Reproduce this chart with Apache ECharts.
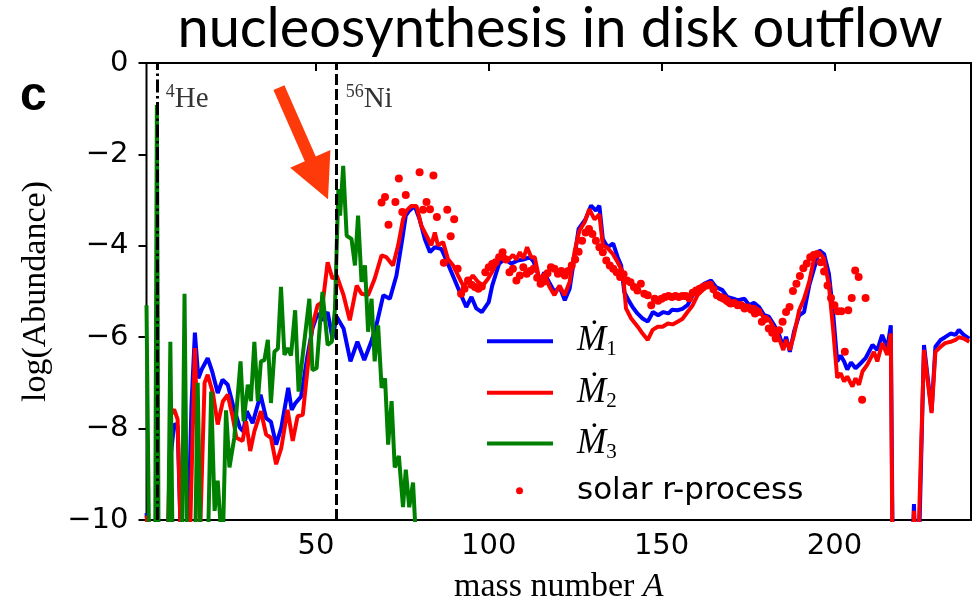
<!DOCTYPE html>
<html>
<head>
<meta charset="utf-8">
<script src="https://cdn.jsdelivr.net/npm/echarts@6/dist/echarts.min.js"></script>
<style>
  html, body { margin: 0; padding: 0; background: #fff; }
  #chart { width: 974px; height: 609px; }
</style>
</head>
<body>
<div id="chart"></div>
<script>
// Axis ticks
const xTicks = [50, 100, 150, 200];
const yTicks = [-10, -8, -6, -4, -2, 0];

// log10 abundance vs mass number A for the three outflow rates
const mdot1 = [
  [1,-9.85],[2,-10.6],[7,-11],[8,-8.6],[9,-7.9],[10,-7.95],[11,-10.6],[13,-10.5],[14,-7.5],[15,-5.9],
  [16,-6.9],[17,-6.7],[18.7,-6.46],[20,-6.75],[21.6,-7.22],[23,-6.93],[24.5,-7.04],[26,-7.48],[28,-7.98],
  [29,-8.06],[30,-7.62],[31.7,-7.88],[34,-7.26],[35.6,-7.77],[37,-7.85],[38.5,-8.35],[40,-7.98],[42,-7.11],
  [43,-7.59],[44,-7.45],[45.7,-7.3],[47.6,-6.39],[49,-5.81],[50.5,-5.48],[52,-5.63],[53.4,-5.45],[54.8,-6.03],
  [56,-5.55],[58,-5.81],[60,-6.53],[62,-6.1],[64,-6.5],[66,-6.1],[67.5,-5.74],[69.5,-5.08],[71.4,-5.16],
  [73.3,-4.65],[75,-3.85],[76,-3.34],[77,-3.23],[78.6,-3.13],[80,-3.42],[81.5,-3.85],[83,-4.14],[84.4,-4.03],
  [86.3,-4.07],[88,-4.36],[90,-4.72],[92,-5.08],[93.5,-5.34],[95,-5.12],[96.4,-5.37],[98,-5.45],[100,-5.23],
  [101,-4.87],[103,-4.39],[104.6,-4.29],[106.5,-4.39],[108.4,-4.32],[110,-4.3],[112,-4.25],[113,-4.35],
  [115,-4.79],[116,-4.58],[117.5,-4.8],[119,-5.01],[120.5,-4.9],[122,-5.19],[123.4,-4.94],[125,-4.14],
  [126,-3.63],[128,-3.42],[129.6,-3.12],[131,-3.23],[132,-3.12],[133,-3.85],[134.4,-4.03],[136,-3.95],
  [137.3,-4.25],[138.3,-4.43],[139.2,-5.01],[140.5,-5.2],[141.6,-5.34],[143,-5.48],[144.5,-5.59],[146,-5.66],
  [147.5,-5.45],[149,-5.52],[150.5,-5.45],[152,-5.48],[153,-5.4],[154.6,-5.41],[156,-5.38],[157.5,-5.3],
  [159,-5.08],[160.4,-4.94],[162.3,-4.83],[164.3,-4.76],[165.7,-4.9],[167.6,-4.97],[169,-5.12],[170.5,-5.15],
  [172,-5.19],[174,-5.16],[175.3,-5.3],[176.7,-5.25],[178.2,-5.34],[179.7,-5.52],[181,-5.55],[182.6,-5.74],
  [184,-5.95],[185.2,-6.21],[186,-5.99],[187.1,-6.32],[188.3,-5.88],[189.8,-5.52],[191.2,-5.45],[192.7,-4.87],
  [194.1,-4.5],[195.6,-4.1],[197,-4.18],[198.4,-4.61],[199.6,-5.45],[200.8,-6.53],[201.8,-6.4],[202.8,-6.53],
  [203.7,-6.71],[204.8,-6.55],[206.1,-6.68],[207.6,-6.57],[209,-6.46],[211,-6.17],[212.4,-6.28],[213.8,-5.95],
  [215.3,-6.24],[216.3,-5.74],[217,-12],[222,-12],[223,-9.65],[224,-12],[225.9,-6.17],[228.1,-7.62],
  [229.2,-6.21],[230.7,-6.06],[232,-6.0],[233.6,-5.92],[235,-5.95],[236,-5.84],[237.4,-5.95],[239,-6.03]
];

const mdot2 = [
  [1,-9.9],[2,-10.6],[7,-11],[8,-7.7],[9,-7.58],[10,-7.8],[11,-10.6],[13.5,-10.6],[15,-6.24],[16.5,-10.3],
  [17.8,-7.0],[18.7,-6.82],[20.2,-7.22],[21.6,-7.91],[23.1,-7.4],[24.5,-7.26],[26,-7.77],[27,-8.2],[28.8,-8.27],
  [29.8,-7.84],[31,-8.49],[32.2,-8.06],[34.1,-7.62],[35.6,-8.13],[37,-8.2],[38.5,-8.78],[40,-8.42],[41.8,-7.59],
  [43.3,-8.27],[44.7,-7.73],[46.2,-7.7],[47.6,-6.68],[49,-5.74],[50.5,-5.3],[52,-5.23],[53.4,-4.36],[54.8,-4.72],
  [56,-4.65],[58,-5.08],[59.8,-5.63],[61.8,-4.87],[63.2,-5.05],[65.1,-5.08],[67,-4.72],[69,-4.21],[70.4,-4.25],
  [72.3,-4.43],[73.8,-3.99],[75.2,-3.42],[76.2,-3.23],[77.6,-3.13],[79.1,-3.13],[80.5,-3.56],[82,-3.78],
  [83.4,-3.99],[84.4,-3.71],[85.3,-3.99],[86.8,-3.92],[88.2,-4.29],[89.7,-4.43],[91.1,-4.65],[92.6,-4.87],
  [94,-4.79],[95.4,-4.65],[96.9,-4.79],[98.3,-4.87],[99.8,-4.72],[101.2,-4.54],[102.7,-4.29],[104.1,-4.18],
  [105.5,-4.32],[107,-4.2],[108,-4.3],[109,-4.14],[110,-4.28],[111.1,-4.03],[112.3,-4.25],[113.3,-4.25],
  [114.7,-4.76],[116.1,-4.61],[117.6,-4.9],[119,-5.08],[120.5,-4.87],[121.9,-5.08],[123.4,-4.79],[124.8,-4.14],
  [126.2,-3.67],[127.7,-3.49],[129.1,-3.2],[130.6,-3.42],[132,-3.31],[133,-3.99],[134.4,-4.05],[135.9,-4.18],
  [137.3,-4.36],[138.8,-4.58],[139.7,-5.37],[141.2,-5.59],[143.1,-5.77],[144.5,-5.92],[146,-6.06],[147.4,-5.84],
  [148.9,-5.77],[150.3,-5.77],[151.8,-5.70],[153.2,-5.72],[154.6,-5.66],[156,-5.6],[157.5,-5.45],[159,-5.30],
  [160.4,-5.08],[162.3,-4.94],[163.8,-4.83],[165.2,-5.01],[166.7,-5.16],[168.2,-5.22],[169.6,-5.30],[171,-5.26],
  [172.5,-5.26],[174,-5.3],[175.3,-5.37],[176.7,-5.33],[178.2,-5.41],[179.7,-5.59],[181,-5.6],[182.6,-5.81],
  [184,-6.03],[185.2,-6.28],[186,-6.06],[187.1,-6.28],[188.3,-5.95],[189.8,-5.41],[191.2,-5.16],[192.7,-4.79],
  [194.1,-4.28],[195.6,-4.14],[197,-4.28],[198.4,-4.87],[199.6,-5.81],[200.8,-6.89],[201.8,-6.79],[202.8,-6.97],
  [203.7,-6.86],[205.2,-7.08],[206.1,-6.9],[207.1,-7.04],[208.1,-6.75],[209.5,-6.6],[211.4,-6.32],[212.4,-6.53],
  [213.8,-6.13],[215.3,-6.39],[216.3,-5.92],[216.9,-12],[222.2,-12],[223,-9.8],[223.7,-12],[225.9,-6.28],
  [228.1,-7.66],[229.2,-6.32],[230.7,-6.21],[232,-6.13],[233.6,-6.1],[235,-6.06],[236,-6.0],[237.4,-6.03],[239,-6.1]
];

const mdot3 = [
  [1,-5.3],[1.8,-11],[3.5,-11],[4,-0.92],[4.5,-11],[7.2,-11],[7.9,-6.1],[8.6,-11],[11.2,-11],[12,-5.05],
  [12.8,-11],[15,-11],[15.8,-7.0],[16.6,-10.3],[18.8,-10.5],[19.7,-7.19],[20.7,-9.8],[21.6,-9.14],[22.5,-10.2],
  [23.2,-10.1],[24,-7.6],[25,-8.85],[26.4,-8.2],[28.2,-6.53],[29.1,-7.84],[30.3,-7.04],[31.2,-7.4],[32.2,-6.10],
  [33.2,-7.4],[34.1,-6.53],[35.1,-6.5],[36.1,-6.06],[37,-7.44],[38,-6.32],[39,-6.25],[39.9,-4.9],[40.9,-6.39],
  [41.8,-6.24],[42.8,-6.4],[44,-5.41],[45,-7.19],[46.2,-6.39],[48.1,-5.16],[49,-6.72],[50.2,-6.68],[51.9,-5.01],
  [53.4,-6.17],[54.6,-6.1],[55.5,-5.4],[56.5,-2.76],[57,-3.34],[57.9,-2.25],[58.9,-3.78],[60.3,-3.85],
  [61.3,-4.43],[62.2,-3.34],[63.2,-4.79],[64.2,-4.43],[65.1,-5.88],[66.1,-5.16],[67,-6.53],[68,-5.74],
  [69,-7.11],[70,-6.9],[70.9,-8.35],[71.9,-7.4],[72.8,-8.85],[74,-8.6],[75.2,-9.72],[76,-8.9],[77,-9.72],
  [78.1,-9.18],[79,-10.5]
];

// Solar r-process abundances (log10)
const solarR = [
  [69,-3.05],[70,-2.93],[71,-3.54],[73,-3.04],[74,-2.53],[75,-3.26],[76,-2.89],[80,-2.39],[81,-3.21],
  [82,-3.04],[83,-3.20],[84,-2.46],[85,-3.37],[87,-4.37],[88,-3.21],[89,-3.79],[90,-3.42],[91,-4.5],
  [92,-5.05],[93,-4.94],[94,-4.76],[95,-4.85],[96,-4.9],[97,-4.94],[98,-4.89],[99,-4.58],[100,-4.47],
  [101,-4.4],[102,-4.36],[103,-4.25],[104,-4.14],[105,-4.3],[106,-4.58],[107,-4.5],[108,-4.76],[109,-4.65],
  [110,-4.47],[111,-4.61],[112,-4.55],[113,-4.5],[114,-4.7],[115,-4.83],[116,-4.78],[117,-4.6],[118,-4.47],
  [119,-4.5],[120,-4.61],[121,-4.55],[122,-4.65],[123,-4.55],[124,-4.43],[125,-4.3],[126,-4.13],[127,-3.89],
  [128,-3.71],[129,-3.63],[130,-3.74],[131,-3.89],[132,-4.03],[133,-4.14],[134,-4.32],[135,-4.43],[136,-4.5],
  [137,-4.58],[138,-4.68],[139,-4.62],[140,-4.76],[141,-4.8],[142,-4.9],[143,-4.98],[144,-4.83],[145,-5.05],
  [146,-5.08],[147,-5.3],[148,-5.16],[149,-5.2],[150,-5.16],[151,-5.12],[152,-5.1],[153,-5.12],[154,-5.1],
  [155,-5.12],[156,-5.1],[157,-5.1],[158,-5.15],[159,-5.03],[160,-4.98],[161,-4.94],[162,-4.9],[163,-4.87],
  [164,-4.85],[165,-4.95],[166,-5.08],[167,-5.12],[168,-5.15],[169,-5.2],[170,-5.26],[171,-5.25],[172,-5.3],
  [173,-5.3],[174,-5.37],[175,-5.35],[176,-5.4],[177,-5.48],[178,-5.45],[179,-5.66],[180,-5.6],[181,-5.81],
  [182,-5.9],[183,-6.03],[184,-5.85],[185,-5.66],[186,-5.45],[187,-5.34],[188,-4.99],[189,-4.83],[190,-4.66],
  [191,-4.49],[192,-4.39],[193,-4.25],[194,-4.2],[195,-4.18],[196,-4.36],[197,-4.56],[198,-4.87],[199,-5.14],
  [200,-5.3],[201,-5.43],[202,-5.43],[203,-6.32],[204,-5.41],[205,-5.14],[206,-4.54],[207,-4.68],[208,-7.37],
  [209,-5.14]
];

// Reference nuclei marked with vertical lines
const nucleiA = [4, 56];
const nucleiMass = ['4', '56'];
const nucleiElement = ['He', 'Ni'];
const nucleiLabelLevel = -0.8;

const seriesNames = ['Mdot1', 'Mdot2', 'Mdot3', 'solar r-process'];
const seriesColors = ['#0000ff', '#ff0000', '#008000', '#ff0000'];

const chart = echarts.init(document.getElementById('chart'), null, { renderer: 'canvas' });
const minus = v => String(v).replace('-', '\u2212');
const serif = 'Liberation Serif';
const legendRich = {
  m: { fontFamily: serif, fontStyle: 'italic', fontSize: 35, lineHeight: 38, color: '#000', verticalAlign: 'middle' },
  s: { fontFamily: serif, fontSize: 21, color: '#000', verticalAlign: 'bottom' }
};
const legendRowY = [342.7, 394.3, 445, 490.7];

function lineLegend(i) {
  return {
    data: [{ name: seriesNames[i], icon: 'rect' }],
    left: 487, top: legendRowY[i] - 19, padding: 0,
    itemWidth: 66, itemHeight: 4, selectedMode: false,
    formatter: () => '{m|\u1E40}{s|' + (i + 1) + '}',
    textStyle: { padding: [0, 0, 0, 19], rich: legendRich }
  };
}

const option = {
  animation: false,
  backgroundColor: '#fff',
  title: {
    text: 'nucleosynthesis in disk outflow',
    left: 555, textAlign: 'center', top: -4,
    textStyle: { fontFamily: 'Lato', fontWeight: 'normal', fontSize: 56, color: '#000' }
  },
  grid: {
    left: 146.5, right: 3, top: 63, bottom: 86.5,
    show: true, borderColor: '#000', borderWidth: 2, backgroundColor: 'transparent'
  },
  legend: [
    lineLegend(0), lineLegend(1), lineLegend(2),
    {
      data: [{ name: seriesNames[3], icon: 'circle' }],
      left: 516, top: legendRowY[3] - 18, padding: 0,
      itemWidth: 7, itemHeight: 7, selectedMode: false,
      itemStyle: { opacity: 1 },
      textStyle: { fontFamily: 'DejaVu Sans', fontSize: 31, lineHeight: 36, color: '#000', padding: [0, 0, 0, 49] }
    }
  ],
  xAxis: {
    type: 'value', min: 1, max: 239.5,
    splitLine: { show: false },
    axisLine: { show: false },
    axisTick: { customValues: xTicks, length: 8, lineStyle: { width: 2, color: '#000' } },
    axisLabel: { customValues: xTicks, fontFamily: 'DejaVu Sans', fontSize: 29, color: '#000', margin: 12 },
    name: '{r|mass number }{i|A}',
    nameLocation: 'middle', nameGap: 50,
    nameTextStyle: {
      rich: {
        r: { fontFamily: serif, fontSize: 34, color: '#000' },
        i: { fontFamily: serif, fontStyle: 'italic', fontSize: 34, color: '#000' }
      }
    }
  },
  yAxis: {
    type: 'value', min: -10, max: 0, interval: 2,
    splitLine: { show: false },
    axisLine: { show: false },
    axisTick: { length: 8, lineStyle: { width: 2, color: '#000' } },
    axisLabel: { fontFamily: 'DejaVu Sans', fontSize: 29, color: '#000', margin: 18, formatter: minus },
    name: 'log(Abundance)',
    nameLocation: 'middle', nameGap: 93,
    nameTextStyle: { fontFamily: serif, fontSize: 34, color: '#000' }
  },
  series: [
    { name: seriesNames[0], type: 'line', data: mdot1, color: seriesColors[0], symbol: 'none', clip: true,
      lineStyle: { width: 4, color: seriesColors[0] }, z: 2 },
    { name: seriesNames[1], type: 'line', data: mdot2, color: seriesColors[1], symbol: 'none', clip: true,
      lineStyle: { width: 4, color: seriesColors[1] }, z: 3 },
    { name: seriesNames[2], type: 'line', data: mdot3, color: seriesColors[2], symbol: 'none', clip: true,
      lineStyle: { width: 4, color: seriesColors[2] }, z: 4 },
    { name: seriesNames[3], type: 'scatter', data: solarR, color: seriesColors[3], symbolSize: 8,
      itemStyle: { color: seriesColors[3], opacity: 1 }, z: 5 },
    {
      name: 'nuclei', type: 'scatter', silent: true, z: 6,
      data: nucleiA.map((a, i) => ({ value: [a, nucleiLabelLevel], mass: nucleiMass[i], el: nucleiElement[i] })),
      symbolSize: 0,
      label: {
        show: true, position: 'right', distance: 9,
        formatter: p => '{sup|' + p.data.mass + '}{el|' + p.data.el + '}',
        rich: {
          sup: { fontFamily: serif, fontSize: 18, color: '#000', verticalAlign: 'top' },
          el: { fontFamily: serif, fontSize: 29, lineHeight: 32, color: '#000', verticalAlign: 'middle' }
        }
      },
      markLine: {
        silent: true, symbol: ['none', 'none'], label: { show: false },
        data: [
          { xAxis: nucleiA[0], lineStyle: { color: '#000', width: 3, type: [13, 3.5, 2.5, 3.5] } },
          { xAxis: nucleiA[1], lineStyle: { color: '#000', width: 3, type: [11, 4] } }
        ]
      }
    }
  ]
};

chart.setOption(option);

// Red annotation arrow pointing at the 56Ni peak, placed in data coordinates
const arrowFrom = [39.3, -0.54];
const arrowTo = [53.5, -2.98];
const p0 = chart.convertToPixel({ gridIndex: 0 }, arrowFrom);
const p1 = chart.convertToPixel({ gridIndex: 0 }, arrowTo);
const dx = p1[0] - p0[0], dy = p1[1] - p0[1];
const len = Math.hypot(dx, dy);
const ux = dx / len, uy = dy / len, nx = -uy, ny = ux;
const headLen = 44, headHalf = 22, shaftHalf = 6;
const bx = p1[0] - ux * headLen, by = p1[1] - uy * headLen;
const arrowPts = [
  [p0[0] + nx * shaftHalf, p0[1] + ny * shaftHalf],
  [bx + nx * shaftHalf, by + ny * shaftHalf],
  [bx + nx * headHalf, by + ny * headHalf],
  [p1[0], p1[1]],
  [bx - nx * headHalf, by - ny * headHalf],
  [bx - nx * shaftHalf, by - ny * shaftHalf],
  [p0[0] - nx * shaftHalf, p0[1] - ny * shaftHalf]
];
chart.setOption({
  graphic: [
    { type: 'text', left: 20, top: 73, style: { text: 'c', fontFamily: 'Liberation Sans', fontWeight: 'bold', fontSize: 48, fill: '#000' } },
    { type: 'polygon', shape: { points: arrowPts }, style: { fill: '#ff3a0a' }, z: 100 }
  ]
});
</script>
</body>
</html>
